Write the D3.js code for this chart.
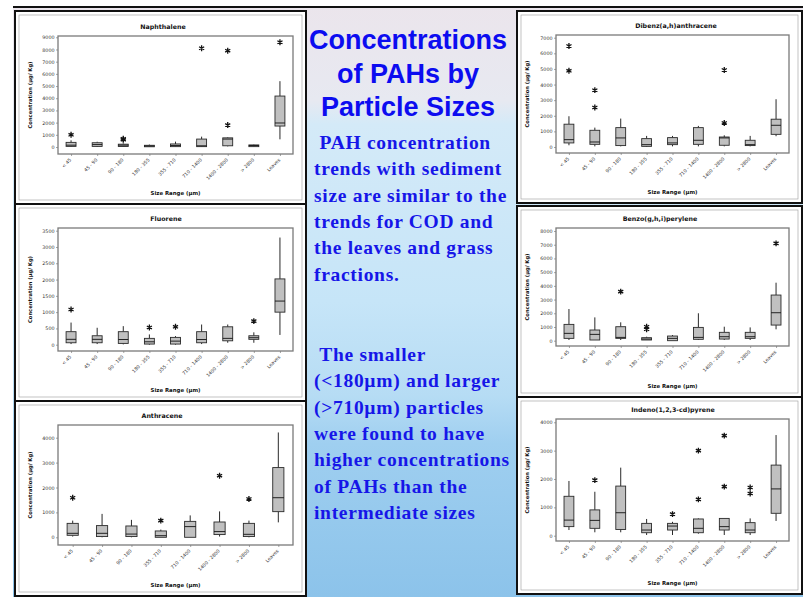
<!DOCTYPE html>
<html>
<head>
<meta charset="utf-8">
<script src="https://cdn.jsdelivr.net/npm/d3@7"></script>
<style>
  html, body { margin: 0; padding: 0; background: #fff; }
  svg { display: block; }
</style>
</head>
<body>
<svg id="slide" width="803" height="597"></svg>
<script>
// ---- data -------------------------------------------------------------
const sizeRanges = ["< 45", "45 - 90", "90 - 180", "180 - 355", "355 - 710",
                    "710 - 1400", "1400 - 2800", "> 2800", "Leaves"];
const sizeRangesAnthracene = ["< 45", "45 - 90", "90 - 180", "355 - 710",
                              "710 - 1400", "1400 - 2800", "> 2800", "Leaves"];

// each box: [min, q1, median, q3, max] in µg/Kg
const naphthaleneBoxes = [
  [0, 50, 150, 380, 550], [0, 50, 200, 350, 430], [0, 40, 150, 230, 300],
  [0, 20, 80, 140, 200], [0, 30, 120, 250, 440], [0, 30, 100, 650, 850],
  [50, 100, 650, 750, 800], [0, 30, 120, 170, 200], [630, 1720, 1970, 4180, 5400]
];
const naphthaleneOutliers = [[1000], [], [600, 680], [], [], [8100], [7900, 1800], [], [8600]];
const naphthaleneTicks = [0, 1000, 2000, 3000, 4000, 5000, 6000, 7000, 8000, 9000];

const fluoreneBoxes = [
  [20, 60, 165, 400, 680], [20, 60, 165, 275, 520], [10, 40, 160, 400, 570],
  [0, 20, 90, 195, 315], [0, 20, 110, 225, 265], [20, 60, 160, 400, 620],
  [60, 120, 195, 550, 620], [60, 165, 215, 275, 380], [300, 1000, 1340, 2020, 3290]
];
const fluoreneOutliers = [[1080], [], [], [530], [550], [], [], [725], []];
const fluoreneTicks = [0, 500, 1000, 1500, 2000, 2500, 3000, 3500];

const anthraceneBoxes = [
  [30, 80, 160, 560, 670], [0, 30, 160, 470, 940], [0, 30, 130, 455, 700],
  [0, 0, 65, 255, 310], [0, 0, 430, 640, 880], [30, 110, 230, 615, 1040],
  [0, 30, 120, 560, 670], [600, 1030, 1590, 2800, 4210]
];
const anthraceneOutliers = [[1590], [], [], [670], [], [2475], [1540], []];
const anthraceneTicks = [0, 1000, 2000, 3000, 4000];

const dibenzBoxes = [
  [110, 260, 470, 1460, 1970], [40, 170, 320, 1070, 1240], [40, 90, 580, 1240, 1820],
  [0, 40, 150, 535, 710], [40, 150, 260, 600, 710], [40, 170, 430, 1240, 1350],
  [40, 110, 580, 640, 750], [40, 90, 150, 430, 710], [690, 810, 1390, 1780, 3060]
];
const dibenzOutliers = [[6470, 4880], [3640, 2530], [], [], [], [], [4930, 1540], [], []];
const dibenzTicks = [0, 1000, 2000, 3000, 4000, 5000, 6000, 7000];

const benzoBoxes = [
  [50, 170, 535, 1190, 2310], [50, 50, 460, 780, 1700], [50, 170, 240, 1020, 1340],
  [50, 50, 120, 220, 290], [0, 0, 170, 340, 410], [50, 100, 240, 970, 2000],
  [50, 120, 290, 610, 1020], [50, 170, 290, 610, 970], [830, 1140, 2040, 3330, 4230]
];
const benzoOutliers = [[], [], [3580], [1020, 830], [], [], [], [], [7100]];
const benzoTicks = [0, 1000, 2000, 3000, 4000, 5000, 6000, 7000, 8000];

const indenoBoxes = [
  [200, 320, 550, 1390, 1930], [120, 260, 540, 910, 1550], [120, 220, 810, 1750, 2400],
  [25, 105, 200, 435, 590], [25, 200, 340, 435, 490], [70, 105, 260, 590, 610],
  [25, 200, 320, 610, 610], [25, 105, 200, 460, 610], [520, 790, 1650, 2490, 3550]
];
const indenoOutliers = [[], [1960], [], [], [760], [3000, 1280], [3530, 1730], [1700, 1490], []];
const indenoTicks = [0, 1000, 2000, 3000, 4000];

const slideTitle = ["Concentrations", "of PAHs by", "Particle Sizes"];
const noteOne = [" PAH concentration", "trends with sediment", "size are similar to the",
                 "trends for COD and", "the leaves and grass", "fractions."];
const noteTwo = [" The smaller", "(<180\u00B5m) and larger", "(>710\u00B5m) particles",
                 "were found to have", "higher concentrations", "of PAHs than the",
                 "intermediate sizes"];

// ---- layout -----------------------------------------------------------
const panels = [
  { title: "Naphthalene", cats: sizeRanges, boxes: naphthaleneBoxes, out: naphthaleneOutliers,
    ticks: naphthaleneTicks, card: [15, 11, 291, 193], frame: [58, 293, 36, 154],
    yDomain: [-574, 9106], titleX: 163, yLabelX: 32 },
  { title: "Fluorene", cats: sizeRanges, boxes: fluoreneBoxes, out: fluoreneOutliers,
    ticks: fluoreneTicks, card: [15, 204, 291, 197], frame: [58, 293, 228, 351],
    yDomain: [-193, 3583], titleX: 166, yLabelX: 32 },
  { title: "Anthracene", cats: sizeRangesAnthracene, boxes: anthraceneBoxes, out: anthraceneOutliers,
    ticks: anthraceneTicks, card: [15, 401, 291, 195], frame: [58, 293, 425, 545],
    yDomain: [-309, 4510], titleX: 162, yLabelX: 32 },
  { title: "Dibenz(a,h)anthracene", cats: sizeRanges, boxes: dibenzBoxes, out: dibenzOutliers,
    ticks: dibenzTicks, card: [517, 11, 285, 192], frame: [556, 789, 35, 153],
    yDomain: [-385, 7174], titleX: 676, yLabelX: 529 },
  { title: "Benzo(g,h,i)perylene", cats: sizeRanges, boxes: benzoBoxes, out: benzoOutliers,
    ticks: benzoTicks, card: [517, 206, 285, 191], frame: [556, 789, 228, 346],
    yDomain: [-387, 8220], titleX: 660, yLabelX: 529 },
  { title: "Indeno(1,2,3-cd)pyrene", cats: sizeRanges, boxes: indenoBoxes, out: indenoOutliers,
    ticks: indenoTicks, card: [517, 397, 285, 197], frame: [556, 789, 419, 541],
    yDomain: [-187, 4116], titleX: 673, yLabelX: 529 }
];

const svg = d3.select("#slide");
const defs = svg.append("defs");

// slide backdrop: pale sky at the top fading into deeper blue water
const grad = defs.append("linearGradient").attr("id", "sky")
  .attr("x1", 0).attr("y1", 0).attr("x2", 0).attr("y2", 1);
[[0, "#ebe5ec"], [0.16, "#e7e9f1"], [0.2, "#d4eaf8"], [0.5, "#c6e5f8"],
 [0.66, "#b6dcf4"], [0.74, "#9fcff0"], [1, "#8cc3ea"]]
  .forEach(([o, c]) => grad.append("stop").attr("offset", o).attr("stop-color", c));

svg.append("rect").attr("x", 13).attr("y", 6).attr("width", 790).attr("height", 591)
  .attr("fill", "url(#sky)");
svg.append("line").attr("x1", 13).attr("x2", 803).attr("y1", 7).attr("y2", 7)
  .attr("stroke", "#111").attr("stroke-width", 2);

const FONT = "'DejaVu Sans', Verdana, sans-serif";
const fmt = d3.format("d");

panels.forEach(p => {
  const g = svg.append("g");
  const [cx, cy, cw, ch] = p.card;
  g.append("rect").attr("x", cx).attr("y", cy).attr("width", cw).attr("height", ch)
    .attr("fill", "#fff").attr("stroke", "#111").attr("stroke-width", 2);
  g.append("rect").attr("x", cx + 4).attr("y", cy + 4).attr("width", cw - 8).attr("height", ch - 8)
    .attr("fill", "none").attr("stroke", "#9a9a9a").attr("stroke-width", 0.6);

  const [x0, x1, y0, y1] = p.frame;
  const x = d3.scalePoint().domain(p.cats).range([x0, x1]).padding(0.5);
  const y = d3.scaleLinear().domain(p.yDomain).range([y1, y0]);
  const bw = x.step() * 0.38;

  // title
  g.append("text").attr("x", p.titleX).attr("y", y0 - 7).attr("text-anchor", "middle")
    .attr("font-family", FONT).attr("font-weight", "bold").attr("font-size", 6.3)
    .attr("fill", "#111").text(p.title);

  // y axis
  const ya = g.append("g").attr("transform", `translate(${x0},0)`)
    .call(d3.axisLeft(y).tickValues(p.ticks).tickFormat(fmt).tickSize(2).tickPadding(1.5));
  ya.select(".domain").remove();
  ya.selectAll("line").attr("stroke", "#666").attr("stroke-width", 0.6);
  ya.selectAll("text").attr("font-family", FONT).attr("font-size", 4.8).attr("fill", "#333");

  // x axis
  const xa = g.append("g").attr("transform", `translate(0,${y1})`)
    .call(d3.axisBottom(x).tickSize(2));
  xa.select(".domain").remove();
  xa.selectAll("line").attr("stroke", "#666").attr("stroke-width", 0.6);
  xa.selectAll("text").attr("font-family", FONT).attr("font-size", 4.7).attr("fill", "#333")
    .attr("x", 0).attr("y", 0).attr("dy", "0.35em").attr("text-anchor", "end")
    .attr("transform", "translate(-1,5) rotate(-45)");

  // axis titles
  g.append("text").attr("x", (x0 + x1) / 2).attr("y", p.card[1] + p.card[3] - 9)
    .attr("text-anchor", "middle").attr("font-family", FONT).attr("font-weight", "bold")
    .attr("font-size", 5.4).attr("fill", "#111").text("Size Range (\u00B5m)");
  g.append("text").attr("transform", `translate(${p.yLabelX},${(y0 + y1) / 2}) rotate(-90)`)
    .attr("text-anchor", "middle").attr("font-family", FONT).attr("font-weight", "bold")
    .attr("font-size", 5.2).attr("fill", "#111").text("Concentration (\u00B5g/ Kg)");

  // plot frame
  g.append("rect").attr("x", x0).attr("y", y0).attr("width", x1 - x0).attr("height", y1 - y0)
    .attr("fill", "none").attr("stroke", "#7a7a7a").attr("stroke-width", 1.3);

  // boxes
  const items = p.cats.map((c, i) => ({ cat: c, s: p.boxes[i], out: p.out[i] }));
  const bg = g.selectAll("g.box").data(items).join("g").attr("class", "box");
  bg.append("line").attr("x1", d => x(d.cat)).attr("x2", d => x(d.cat))
    .attr("y1", d => y(d.s[3])).attr("y2", d => y(d.s[4]))
    .attr("stroke", "#111").attr("stroke-width", 0.9);
  bg.append("line").attr("x1", d => x(d.cat)).attr("x2", d => x(d.cat))
    .attr("y1", d => y(d.s[0])).attr("y2", d => y(d.s[1]))
    .attr("stroke", "#111").attr("stroke-width", 0.9);
  bg.append("rect").attr("x", d => x(d.cat) - bw / 2).attr("width", bw)
    .attr("y", d => y(d.s[3])).attr("height", d => Math.max(1, y(d.s[1]) - y(d.s[3])))
    .attr("fill", "#c0c0c0").attr("stroke", "#2a2a2a").attr("stroke-width", 0.9);
  bg.append("line").attr("x1", d => x(d.cat) - bw / 2).attr("x2", d => x(d.cat) + bw / 2)
    .attr("y1", d => y(d.s[2])).attr("y2", d => y(d.s[2]))
    .attr("stroke", "#111").attr("stroke-width", 0.9);

  // outliers
  const star = d3.symbol().type(d3.symbolAsterisk).size(24);
  bg.selectAll("path.out").data(d => d.out.map(v => ({ cat: d.cat, v })))
    .join("path").attr("class", "out").attr("d", star)
    .attr("transform", d => `translate(${x(d.cat)},${y(d.v)})`)
    .attr("fill", "none").attr("stroke", "#111").attr("stroke-width", 1.3);
});

// slide heading and notes
const tg = svg.append("g");
tg.selectAll("text.h").data(slideTitle).join("text").attr("class", "h")
  .attr("x", 408).attr("y", (d, i) => 49 + i * 33.5).attr("text-anchor", "middle")
  .attr("font-family", "'Liberation Sans', Arial, sans-serif").attr("font-weight", "bold")
  .attr("font-size", 27).attr("fill", "#0c0cf0").text(d => d);

const SERIF = "'Liberation Serif', 'Times New Roman', serif";
tg.selectAll("text.n1").data(noteOne).join("text").attr("class", "n1")
  .attr("x", 314).attr("y", (d, i) => 149 + i * 26.3)
  .attr("font-family", SERIF).attr("font-weight", "bold").attr("font-size", 19.5)
  .attr("letter-spacing", 0.7).attr("fill", "#1616e8")
  .style("white-space", "pre").text(d => d);
tg.selectAll("text.n2").data(noteTwo).join("text").attr("class", "n2")
  .attr("x", 314).attr("y", (d, i) => 361 + i * 26.3)
  .attr("font-family", SERIF).attr("font-weight", "bold").attr("font-size", 19.5)
  .attr("letter-spacing", 0.7).attr("fill", "#1616e8")
  .style("white-space", "pre").text(d => d);
</script>
</body>
</html>
